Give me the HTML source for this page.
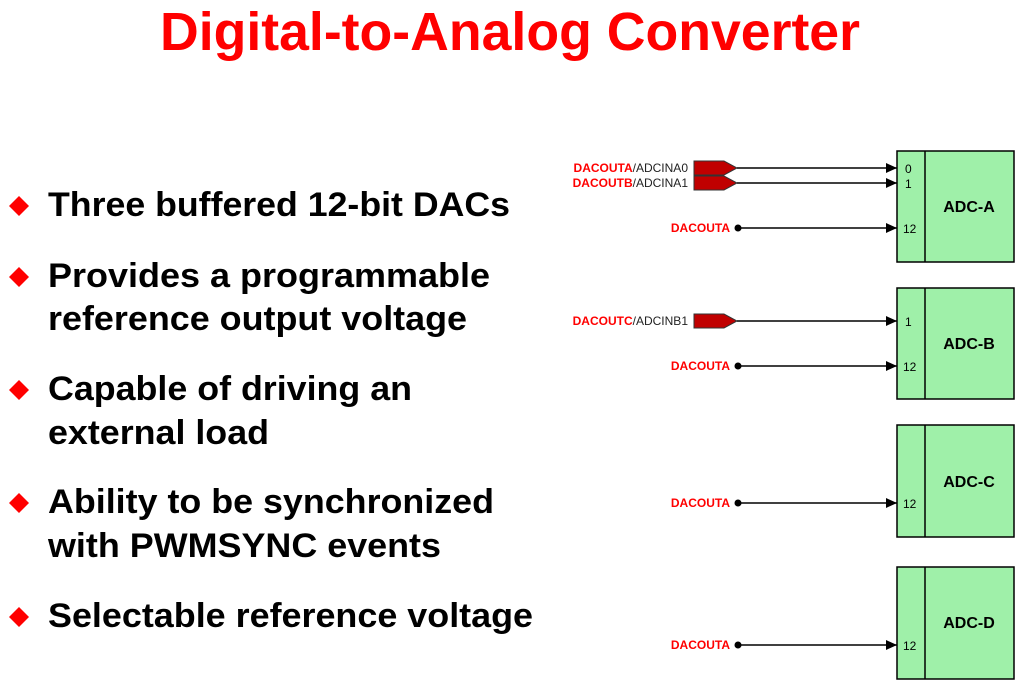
<!DOCTYPE html>
<html><head><meta charset="utf-8"><style>
html,body{margin:0;padding:0;background:#fff;}
svg{display:block;font-family:"Liberation Sans",Arial,sans-serif;}
</style></head><body>
<svg width="1024" height="689" viewBox="0 0 1024 689" xmlns="http://www.w3.org/2000/svg">
<defs>
<marker id="ar" markerWidth="11" markerHeight="10" refX="11" refY="5" orient="auto" markerUnits="userSpaceOnUse">
<path d="M0,0 L11,5 L0,10 Z" fill="#000"/>
</marker>
</defs>
<text x="160" y="50" font-size="54" font-weight="bold" fill="#ff0000" textLength="700" lengthAdjust="spacingAndGlyphs">Digital-to-Analog Converter</text>

<g font-size="34" font-weight="bold" fill="#000">
<text x="48" y="216" textLength="462" lengthAdjust="spacingAndGlyphs">Three buffered 12-bit DACs</text>
<text x="48" y="287" textLength="442" lengthAdjust="spacingAndGlyphs">Provides a programmable</text>
<text x="48" y="330" textLength="419" lengthAdjust="spacingAndGlyphs">reference output voltage</text>
<text x="48" y="400" textLength="364" lengthAdjust="spacingAndGlyphs">Capable of driving an</text>
<text x="48" y="444" textLength="221" lengthAdjust="spacingAndGlyphs">external load</text>
<text x="48" y="513" textLength="446" lengthAdjust="spacingAndGlyphs">Ability to be synchronized</text>
<text x="48" y="557" textLength="393" lengthAdjust="spacingAndGlyphs">with PWMSYNC events</text>
<text x="48" y="627" textLength="485" lengthAdjust="spacingAndGlyphs">Selectable reference voltage</text>
</g>
<g fill="#ff0000">
<path d="M19,196 L29,206 L19,216 L9,206 Z"/>
<path d="M19,267 L29,277 L19,287 L9,277 Z"/>
<path d="M19,380 L29,390 L19,400 L9,390 Z"/>
<path d="M19,493 L29,503 L19,513 L9,503 Z"/>
<path d="M19,607 L29,617 L19,627 L9,617 Z"/>
</g>

<g fill="#9ff0a9" stroke="#000" stroke-width="1.5">
<rect x="897" y="151" width="117" height="111"/><line x1="925" y1="151" x2="925" y2="262"/>
<rect x="897" y="288" width="117" height="111"/><line x1="925" y1="288" x2="925" y2="399"/>
<rect x="897" y="425" width="117" height="112"/><line x1="925" y1="425" x2="925" y2="537"/>
<rect x="897" y="567" width="117" height="112"/><line x1="925" y1="567" x2="925" y2="679"/>
</g>
<g font-size="16" font-weight="bold" fill="#000" text-anchor="middle">
<text x="969" y="212">ADC-A</text>
<text x="969" y="349">ADC-B</text>
<text x="969" y="487">ADC-C</text>
<text x="969" y="628">ADC-D</text>
</g>
<g font-size="12" fill="#000">
<text x="905" y="173">0</text>
<text x="905" y="188">1</text>
<text x="903" y="233">12</text>
<text x="905" y="326">1</text>
<text x="903" y="371">12</text>
<text x="903" y="508">12</text>
<text x="903" y="650">12</text>
</g>

<g fill="#c00000" stroke="#333" stroke-width="1">
<path d="M694,161 L724,161 L737,168 L724,175 L694,175 Z"/>
<path d="M694,176 L724,176 L737,183 L724,190 L694,190 Z"/>
<path d="M694,314 L724,314 L737,321 L724,328 L694,328 Z"/>
</g>
<g stroke="#000" stroke-width="1.5" marker-end="url(#ar)">
<line x1="737" y1="168" x2="897" y2="168"/>
<line x1="737" y1="183" x2="897" y2="183"/>
<line x1="737" y1="321" x2="897" y2="321"/>
<line x1="738" y1="228" x2="897" y2="228"/>
<line x1="738" y1="366" x2="897" y2="366"/>
<line x1="738" y1="503" x2="897" y2="503"/>
<line x1="738" y1="645" x2="897" y2="645"/>
</g>
<g fill="#000">
<circle cx="738" cy="228" r="3.5"/><circle cx="738" cy="366" r="3.5"/>
<circle cx="738" cy="503" r="3.5"/><circle cx="738" cy="645" r="3.5"/>
</g>
<g font-size="12" text-anchor="end">
<text x="688" y="172"><tspan fill="#ff0000" font-weight="bold">DACOUTA</tspan><tspan fill="#222">/ADCINA0</tspan></text>
<text x="688" y="187"><tspan fill="#ff0000" font-weight="bold">DACOUTB</tspan><tspan fill="#222">/ADCINA1</tspan></text>
<text x="688" y="325"><tspan fill="#ff0000" font-weight="bold">DACOUTC</tspan><tspan fill="#222">/ADCINB1</tspan></text>
<g fill="#ff0000" font-weight="bold">
<text x="730" y="232">DACOUTA</text>
<text x="730" y="370">DACOUTA</text>
<text x="730" y="507">DACOUTA</text>
<text x="730" y="649">DACOUTA</text>
</g>
</g>
</svg>
</body></html>
